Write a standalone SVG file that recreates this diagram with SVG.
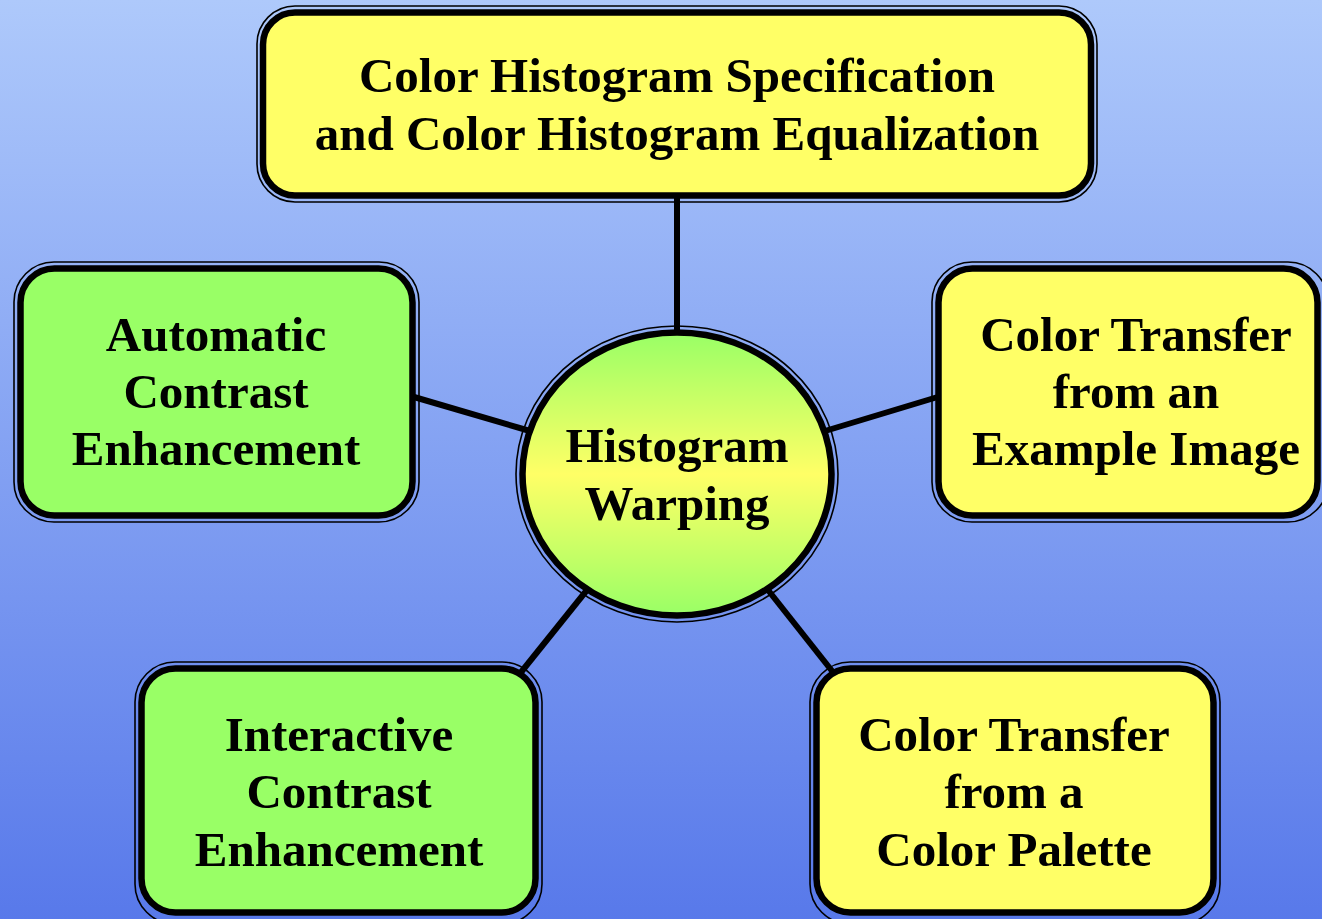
<svg xmlns="http://www.w3.org/2000/svg" width="1322" height="919" viewBox="0 0 1322 919">
<defs>
<linearGradient id="bg" x1="0" y1="0" x2="0" y2="1">
<stop offset="0" stop-color="#aec9fb"/>
<stop offset="1" stop-color="#5879ea"/>
</linearGradient>
<linearGradient id="cg" x1="0" y1="0" x2="0" y2="1">
<stop offset="0" stop-color="#99ff66"/>
<stop offset="0.5" stop-color="#ffff66"/>
<stop offset="1" stop-color="#99ff66"/>
</linearGradient>
<style>
.outer{fill:none;stroke:#000;stroke-width:1.6}
.inner{stroke:#000;stroke-width:6.5}
.y{fill:#ffff66}
.g{fill:#99ff66}
.t{font-family:"Liberation Serif",serif;font-weight:bold;font-size:49px;fill:#000;text-anchor:middle}
.c{stroke:#000;stroke-width:6;fill:none}
</style>
</defs>
<rect width="1322" height="919" fill="url(#bg)"/>
<g id="connectors">
<line class="c" x1="677" y1="196" x2="677" y2="334"/>
<line class="c" x1="414" y1="397" x2="530" y2="431"/>
<line class="c" x1="825" y1="431" x2="941" y2="396"/>
<line class="c" x1="587" y1="590" x2="518" y2="676"/>
<line class="c" x1="768" y1="590" x2="836" y2="676"/>
</g>
<g id="top">
<rect class="outer" x="257" y="6" width="840" height="196" rx="38"/>
<rect class="inner y" x="263" y="12.5" width="828" height="183" rx="32"/>
<text class="t" x="677" y="92">Color Histogram Specification</text>
<text class="t" x="677" y="150">and Color Histogram Equalization</text>
</g>
<g id="auto">
<rect class="outer" x="14" y="262" width="405" height="260" rx="40"/>
<rect class="inner g" x="20.5" y="268.5" width="392" height="247" rx="34"/>
<text class="t" x="216" y="351">Automatic</text>
<text class="t" x="216" y="408">Contrast</text>
<text class="t" x="216" y="465">Enhancement</text>
</g>
<g id="transfer-image">
<rect class="outer" x="932" y="262" width="396" height="260" rx="40"/>
<rect class="inner y" x="938.5" y="268.5" width="379" height="247" rx="34"/>
<text class="t" x="1136" y="351">Color Transfer</text>
<text class="t" x="1136" y="408">from an</text>
<text class="t" x="1136" y="465">Example Image</text>
</g>
<g id="interactive">
<rect class="outer" x="135" y="662" width="407" height="262" rx="40"/>
<rect class="inner g" x="141.5" y="668.5" width="394" height="244" rx="34"/>
<text class="t" x="339" y="751">Interactive</text>
<text class="t" x="339" y="808">Contrast</text>
<text class="t" x="339" y="866">Enhancement</text>
</g>
<g id="transfer-palette">
<rect class="outer" x="810" y="662" width="410" height="262" rx="40"/>
<rect class="inner y" x="816.5" y="668.5" width="397" height="244" rx="34"/>
<text class="t" x="1014" y="751">Color Transfer</text>
<text class="t" x="1014" y="808">from a</text>
<text class="t" x="1014" y="866">Color Palette</text>
</g>
<g id="center">
<ellipse class="outer" cx="677" cy="474" rx="161" ry="148"/>
<ellipse cx="677" cy="474" rx="154.5" ry="141.5" fill="url(#cg)" stroke="#000" stroke-width="6.5"/>
<text class="t" x="677" y="462">Histogram</text>
<text class="t" x="677" y="520">Warping</text>
</g>
</svg>
